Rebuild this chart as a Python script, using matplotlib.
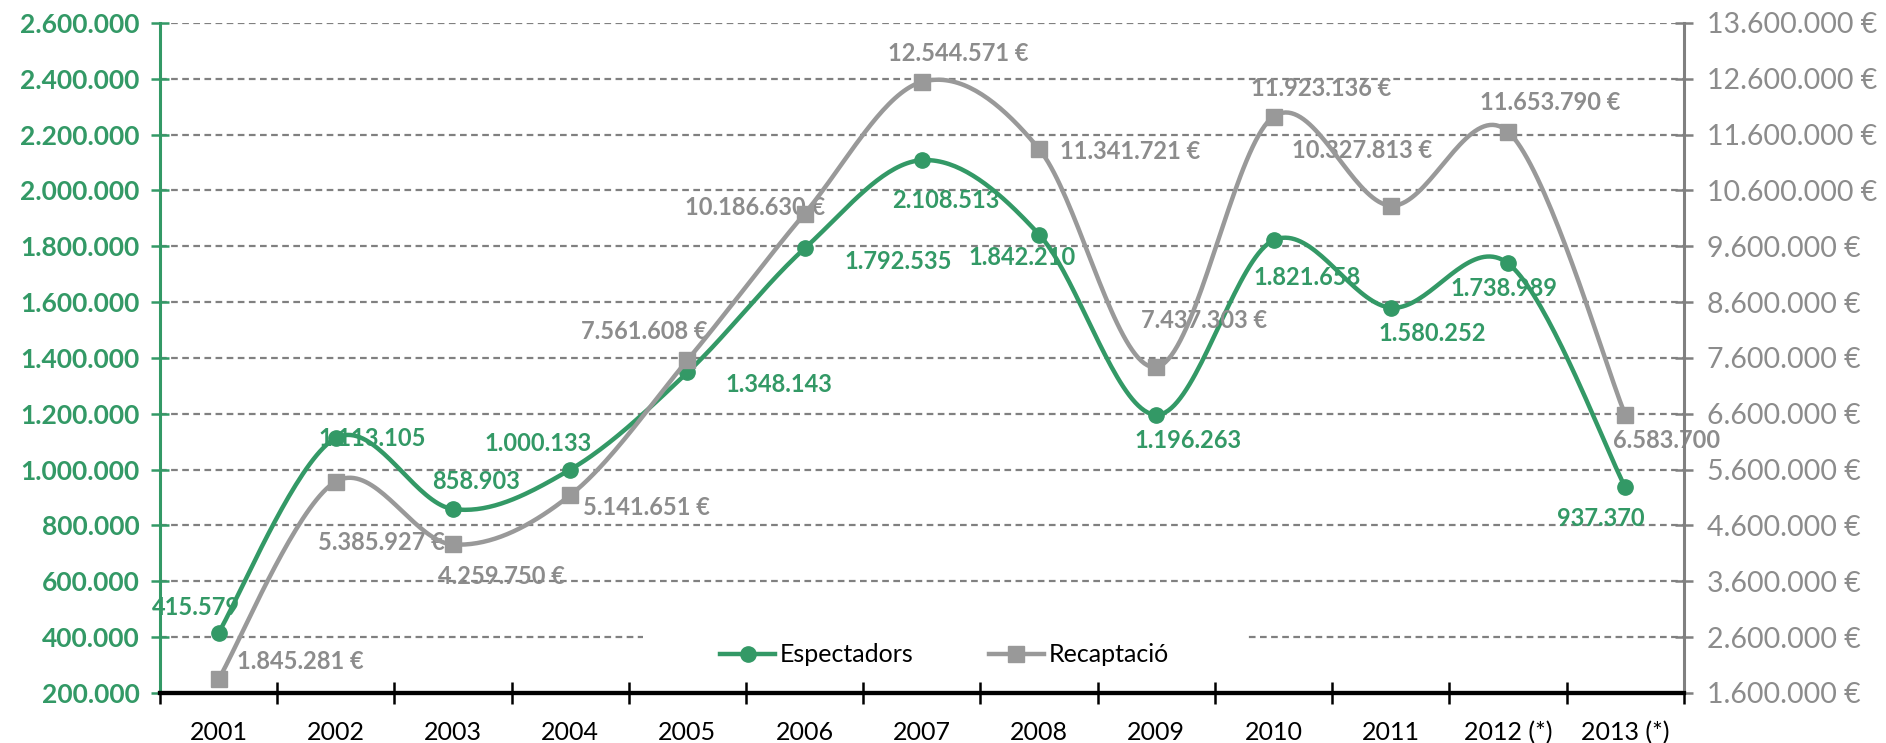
import numpy as np
import matplotlib
matplotlib.use("Agg")
import matplotlib.pyplot as plt
from matplotlib.patches import Rectangle

plt.rcParams['font.family'] = ['Lato', 'DejaVu Sans']

# dades
years = ['2001', '2002', '2003', '2004', '2005', '2006', '2007',
         '2008', '2009', '2010', '2011', '2012 (*)', '2013 (*)']
espectadors = [415579, 1113105, 858903, 1000133, 1348143, 1792535, 2108513,
               1842210, 1196263, 1821658, 1580252, 1738989, 937370]
recaptacio = [1845281, 5385927, 4259750, 5141651, 7561608, 10186630, 12544571,
              11341721, 7437303, 11923136, 10327813, 11653790, 6583700]
rec_labels = ['1.845.281 €', '5.385.927 €', '4.259.750 €', '5.141.651 €',
              '7.561.608 €', '10.186.630 €', '12.544.571 €', '11.341.721 €',
              '7.437.303 €', '11.923.136 €', '10.327.813 €', '11.653.790 €',
              '6.583.700']

# posicio de les etiquetes (px respecte al punt, y cap amunt)
esp_offsets = [(-23, 25), (36, 0), (23, 28), (-32, 26), (91, -12), (94, -13),
               (24, -40), (-17, -23), (32, -26), (34, -37), (42, -26),
               (-4, -25), (-24, -31)]
rec_offsets = [(82, 18), (46, -61), (48, -32), (76, -12), (-43, 29), (-50, 6),
               (36, 28), (91, -2), (48, 47), (48, 28), (-29, 55), (42, 29),
               (41, -26)]

GREEN = '#339966'
GREY = '#999999'
GREY_TXT = '#8c8c8c'


def fmt(v):
    return f"{v:,}".replace(",", ".")


def smooth(xs, ys, n=40):
    """corba suau tipus Excel (Catmull-Rom amb Bezier)"""
    p = np.column_stack([xs, ys]).astype(float)
    out = [p[0]]
    t = np.linspace(0, 1, n)[1:, None]
    for i in range(len(p) - 1):
        p0 = p[i - 1] if i > 0 else p[i]
        p1, p2 = p[i], p[i + 1]
        p3 = p[i + 2] if i + 2 < len(p) else p[i + 1]
        c1 = p1 + (p2 - p0) / 6
        c2 = p2 - (p3 - p1) / 6
        seg = ((1 - t) ** 3 * p1 + 3 * (1 - t) ** 2 * t * c1
               + 3 * (1 - t) * t ** 2 * c2 + t ** 3 * p2)
        out.extend(seg)
    out = np.array(out)
    return out[:, 0], out[:, 1]


x = np.arange(len(years))

fig = plt.figure(figsize=(18.86, 7.43), dpi=100)
ax = fig.add_axes([0.0848, 0.0673, 0.808, 0.9018])
ax2 = ax.twinx()

ax.set_xlim(-0.5, len(years) - 0.5)
ax.set_ylim(200000, 2600000)
ax2.set_ylim(1600000, 13600000)

# graella
ax.set_yticks(np.arange(200000, 2600001, 200000))
ax.set_yticklabels([fmt(v) for v in np.arange(200000, 2600001, 200000)],
                   color=GREEN, fontweight='bold', fontsize=19)
ax.yaxis.grid(True, color='#808080', linestyle=(0, (3, 2)), linewidth=1.6)
ax.set_axisbelow(True)

ax2.set_yticks(np.arange(1600000, 13600001, 1000000))
ax2.set_yticklabels([fmt(v) + ' €' for v in np.arange(1600000, 13600001, 1000000)],
                    color=GREY_TXT, fontsize=20.5)

# eix x
ax.set_xticks(x)
ax.set_xticklabels(years, fontsize=18, color='black')
ax.set_xticks(np.arange(-0.5, len(years), 1), minor=True)
ax.tick_params(axis='x', which='major', length=0, pad=20)
ax.tick_params(axis='x', which='minor', length=16, width=1.8, direction='inout',
               color='black')
ax.tick_params(axis='y', length=13, width=1.8, direction='inout', color=GREEN, pad=8)
ax2.tick_params(axis='y', length=13, width=1.8, direction='inout', color='#808080', pad=10)

for a in (ax, ax2):
    a.spines['top'].set_visible(False)
    a.spines['bottom'].set_color('black')
    a.spines['bottom'].set_linewidth(3)
ax.spines['left'].set_color(GREEN)
ax.spines['left'].set_linewidth(2.2)
ax.spines['right'].set_visible(False)
ax2.spines['left'].set_visible(False)
ax2.spines['right'].set_color('#808080')
ax2.spines['right'].set_linewidth(2.2)

# fons blanc de la llegenda (talla la graella)
ax.add_patch(Rectangle((0.317, 0.02), 0.395, 0.1, transform=ax.transAxes,
                       facecolor='white', edgecolor='none', zorder=1.5))

# series
sx, sy = smooth(x, espectadors)
ax.plot(sx, sy, color=GREEN, linewidth=3.2, zorder=3)
ax.plot(x, espectadors, linestyle='none', marker='o', markersize=11,
        color=GREEN, zorder=4)
sx, sy = smooth(x, recaptacio)
ax2.plot(sx, sy, color=GREY, linewidth=3.2, zorder=3)
ax2.plot(x, recaptacio, linestyle='none', marker='s', markersize=11,
         color=GREY, zorder=4)

for xi, v, (dx, dy) in zip(x, espectadors, esp_offsets):
    ax.annotate(fmt(v), (xi, v), xytext=(dx * 0.72, dy * 0.72),
                textcoords='offset points', ha='center', va='center',
                color=GREEN, fontweight='bold', fontsize=17, zorder=2.5)
for xi, v, lab, (dx, dy) in zip(x, recaptacio, rec_labels, rec_offsets):
    ax2.annotate(lab, (xi, v), xytext=(dx * 0.72, dy * 0.72),
                 textcoords='offset points', ha='center', va='center',
                 color=GREY_TXT, fontweight='bold', fontsize=17, zorder=2.5)

# llegenda
h1, = ax.plot([], [], color=GREEN, linewidth=3.2, marker='o', markersize=11)
h2, = ax.plot([], [], color=GREY, linewidth=3.2, marker='s', markersize=11)
ax2.legend([h1, h2], ['Espectadors', 'Recaptació'], loc='center',
           bbox_to_anchor=(0.515, 0.057), ncol=2, frameon=False, fontsize=18,
           handlelength=2.2, handletextpad=0.2, columnspacing=3.0)

fig.savefig('out.png', dpi=100)
